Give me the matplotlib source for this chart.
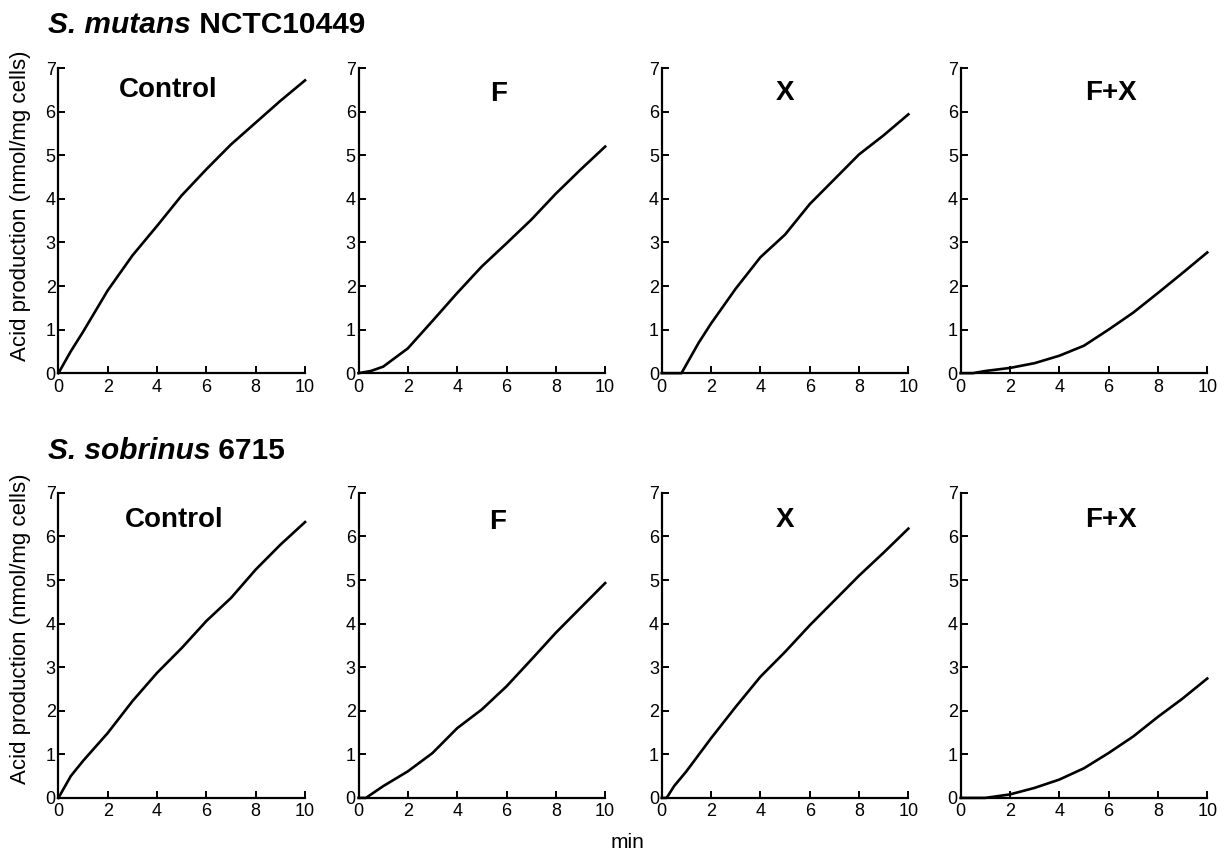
import matplotlib
matplotlib.use("Agg")
import matplotlib.pyplot as plt

plt.rcParams["font.family"] = ["Liberation Sans", "DejaVu Sans"]

# time points (min)
t = [0, 0.5, 1, 2, 3, 4, 5, 6, 7, 8, 9, 10]

# S. mutans NCTC10449
mut_control = [0, 0.5, 0.95, 1.9, 2.7, 3.38, 4.08, 4.68, 5.25, 5.75, 6.25, 6.72]
mut_f = [0, 0.05, 0.15, 0.57, 1.2, 1.84, 2.45, 2.98, 3.52, 4.12, 4.67, 5.2]
mut_x_t = [0, 0.8, 1.0, 1.5, 2, 3, 4, 5, 6, 7, 8, 9, 10]
mut_x = [0, 0, 0.2, 0.7, 1.14, 1.94, 2.66, 3.18, 3.88, 4.45, 5.02, 5.46, 5.94]
mut_fx = [0, 0, 0.05, 0.12, 0.23, 0.4, 0.63, 1.0, 1.39, 1.84, 2.3, 2.77]

# S. sobrinus 6715
sob_control = [0, 0.5, 0.85, 1.49, 2.22, 2.87, 3.44, 4.06, 4.59, 5.24, 5.81, 6.33]
sob_f_t = [0, 0.3, 1, 2, 3, 4, 5, 6, 7, 8, 9, 10]
sob_f = [0, 0, 0.27, 0.61, 1.03, 1.6, 2.03, 2.56, 3.17, 3.79, 4.36, 4.93]
sob_x_t = [0, 0.2, 0.5, 1, 2, 3, 4, 5, 6, 7, 8, 9, 10]
sob_x = [0, 0, 0.27, 0.61, 1.37, 2.09, 2.78, 3.35, 3.96, 4.53, 5.1, 5.63, 6.18]
sob_fx_t = [0, 1, 1.5, 2, 3, 4, 5, 6, 7, 8, 9, 10]
sob_fx = [0, 0, 0, 0.08, 0.23, 0.42, 0.68, 1.03, 1.41, 1.86, 2.28, 2.74]

panel_names = ["Control", "F", "X", "F+X"]
species = [("S. mutans", "NCTC10449"), ("S. sobrinus", "6715")]
rows = [
    [(t, mut_control), (t, mut_f), (mut_x_t, mut_x), (t, mut_fx)],
    [(t, sob_control), (sob_f_t, sob_f), (sob_x_t, sob_x), (t, sob_fx)],
]
label_pos = [[(4.45, 6.5), (5.7, 6.4), (5.0, 6.43), (6.1, 6.43)],
             [(4.7, 6.38), (5.65, 6.33), (5.0, 6.38), (6.1, 6.38)]]

fig = plt.figure(figsize=(12.3, 8.52), dpi=100)
lefts = [0.0475, 0.2915, 0.538, 0.781]
bottoms = [0.562, 0.0635]
w, h = 0.2005, 0.358
title_y = [0.971, 0.471]
ylabel_y = [0.759, 0.262]

for r in range(2):
    for c in range(4):
        ax = fig.add_axes([lefts[c], bottoms[r], w, h])
        x, y = rows[r][c]
        ax.plot(x, y, color="black", lw=1.9, clip_on=False)
        ax.set_xlim(0, 10)
        ax.set_ylim(0, 7)
        ax.set_xticks(range(0, 11, 2))
        ax.set_yticks(range(0, 8))
        ax.spines["top"].set_visible(False)
        ax.spines["right"].set_visible(False)
        ax.spines["left"].set_linewidth(1.6)
        ax.spines["bottom"].set_linewidth(1.6)
        ax.tick_params(direction="in", length=5, width=1.4, labelsize=13, pad=2)
        ax.tick_params(axis="x", pad=4)
        lx, ly = label_pos[r][c]
        ax.text(lx, ly, panel_names[c], fontsize=20, fontweight="bold",
                ha="center", va="center")

    # species heading: italic name + strain
    name, strain = species[r]
    t1 = fig.text(0.039, title_y[r], name, fontsize=21.5, fontweight="bold",
                  style="italic", ha="left", va="center")
    ax.annotate(" " + strain, xy=(1, 0), xycoords=t1, fontsize=21.5,
                fontweight="bold", ha="left", va="bottom",
                annotation_clip=False)
    fig.text(0.017, ylabel_y[r], "Acid production (nmol/mg cells)", fontsize=16,
             rotation=90, ha="center", va="center")

fig.text(0.51, 0.011, "min", fontsize=15, ha="center", va="center")

fig.savefig("out.png", dpi=100)
